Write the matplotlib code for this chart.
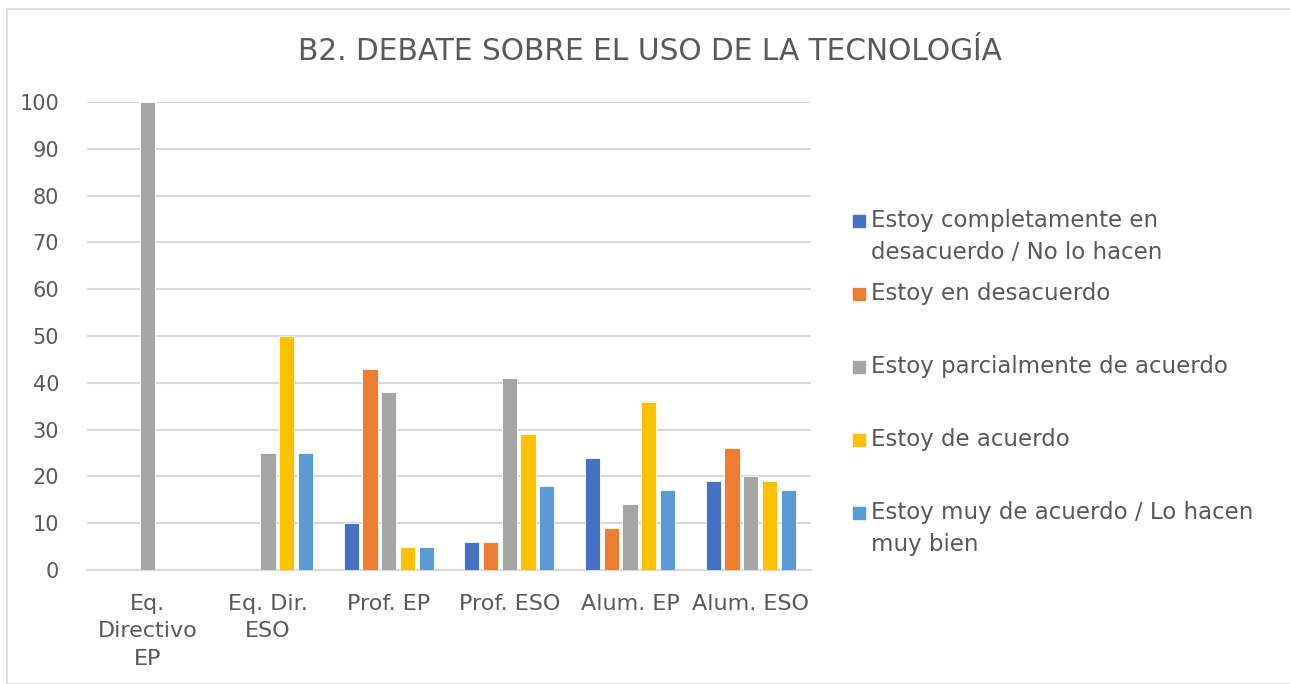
import matplotlib.pyplot as plt
import numpy as np
from matplotlib.patches import Rectangle

categories = ["Eq.\nDirectivo\nEP", "Eq. Dir.\nESO", "Prof. EP", "Prof. ESO", "Alum. EP", "Alum. ESO"]
series_names = [
    "Estoy completamente en\ndesacuerdo / No lo hacen",
    "Estoy en desacuerdo",
    "Estoy parcialmente de acuerdo",
    "Estoy de acuerdo",
    "Estoy muy de acuerdo / Lo hacen\nmuy bien",
]
completamente_desacuerdo = [0, 0, 10, 6, 24, 19]
en_desacuerdo = [0, 0, 43, 6, 9, 26]
parcialmente = [100, 25, 38, 41, 14, 20]
de_acuerdo = [0, 50, 5, 29, 36, 19]
muy_de_acuerdo = [0, 25, 5, 18, 17, 17]
yticks = list(range(0, 101, 10))

series = [completamente_desacuerdo, en_desacuerdo, parcialmente, de_acuerdo, muy_de_acuerdo]
colors = ["#4472C4", "#ED7D31", "#A5A5A5", "#FFC000", "#5B9BD5"]
txt = "#595959"

plt.rcParams['font.family'] = ['DejaVu Sans']

fig = plt.figure(figsize=(12.9, 6.84), dpi=100)
fig.patches.append(Rectangle((7 / 1290, 0), 1.0, 1 - 9 / 684, transform=fig.transFigure,
                             fill=False, edgecolor="#d9d9d9", lw=1.2))
ax = fig.add_axes([87 / 1290, 1 - 570 / 684, (811 - 87) / 1290, (570 - 102) / 684])

x = np.arange(len(categories))
step = 0.155
width = 0.125
for i, (vals, c) in enumerate(zip(series, colors)):
    pos = x + (i - 2) * step
    mask = np.array(vals) > 0
    ax.bar(pos[mask], np.array(vals)[mask], width, color=c, edgecolor="white", lw=0.6, zorder=3)

ax.set_xlim(-0.5, len(categories) - 0.5)
ax.set_ylim(0, 100)
ax.set_yticks(yticks)
ax.yaxis.grid(True, color="#d9d9d9", lw=1.5, zorder=0)
ax.set_xticks(x)
ax.set_xticklabels(categories, linespacing=1.48, fontsize=16)
for s in ["left", "right", "top"]:
    ax.spines[s].set_visible(False)
ax.spines["bottom"].set_color("#d9d9d9")
ax.spines["bottom"].set_linewidth(1.5)
ax.tick_params(axis="both", length=0, colors=txt)
ax.tick_params(axis="y", labelsize=15, pad=20)
ax.tick_params(axis="x", pad=17)

fig.text(650 / 1290, 1 - 51 / 684, "B2. DEBATE SOBRE EL USO DE LA TECNOLOGÍA",
         ha="center", va="center", fontsize=21.3, color=txt)

# legend drawn by hand so markers sit on the first line of each entry
for i, (name, c) in enumerate(zip(series_names, colors)):
    yc = 221 + i * 73
    fig.patches.append(Rectangle((853 / 1290, 1 - (yc + 6) / 684), 12 / 1290, 12 / 684,
                                 transform=fig.transFigure, color=c))
    fig.text(871 / 1290, 1 - (yc - 12) / 684, name, ha="left", va="top",
             fontsize=16.5, color=txt, linespacing=1.48)

fig.savefig("out.png", dpi=100)
